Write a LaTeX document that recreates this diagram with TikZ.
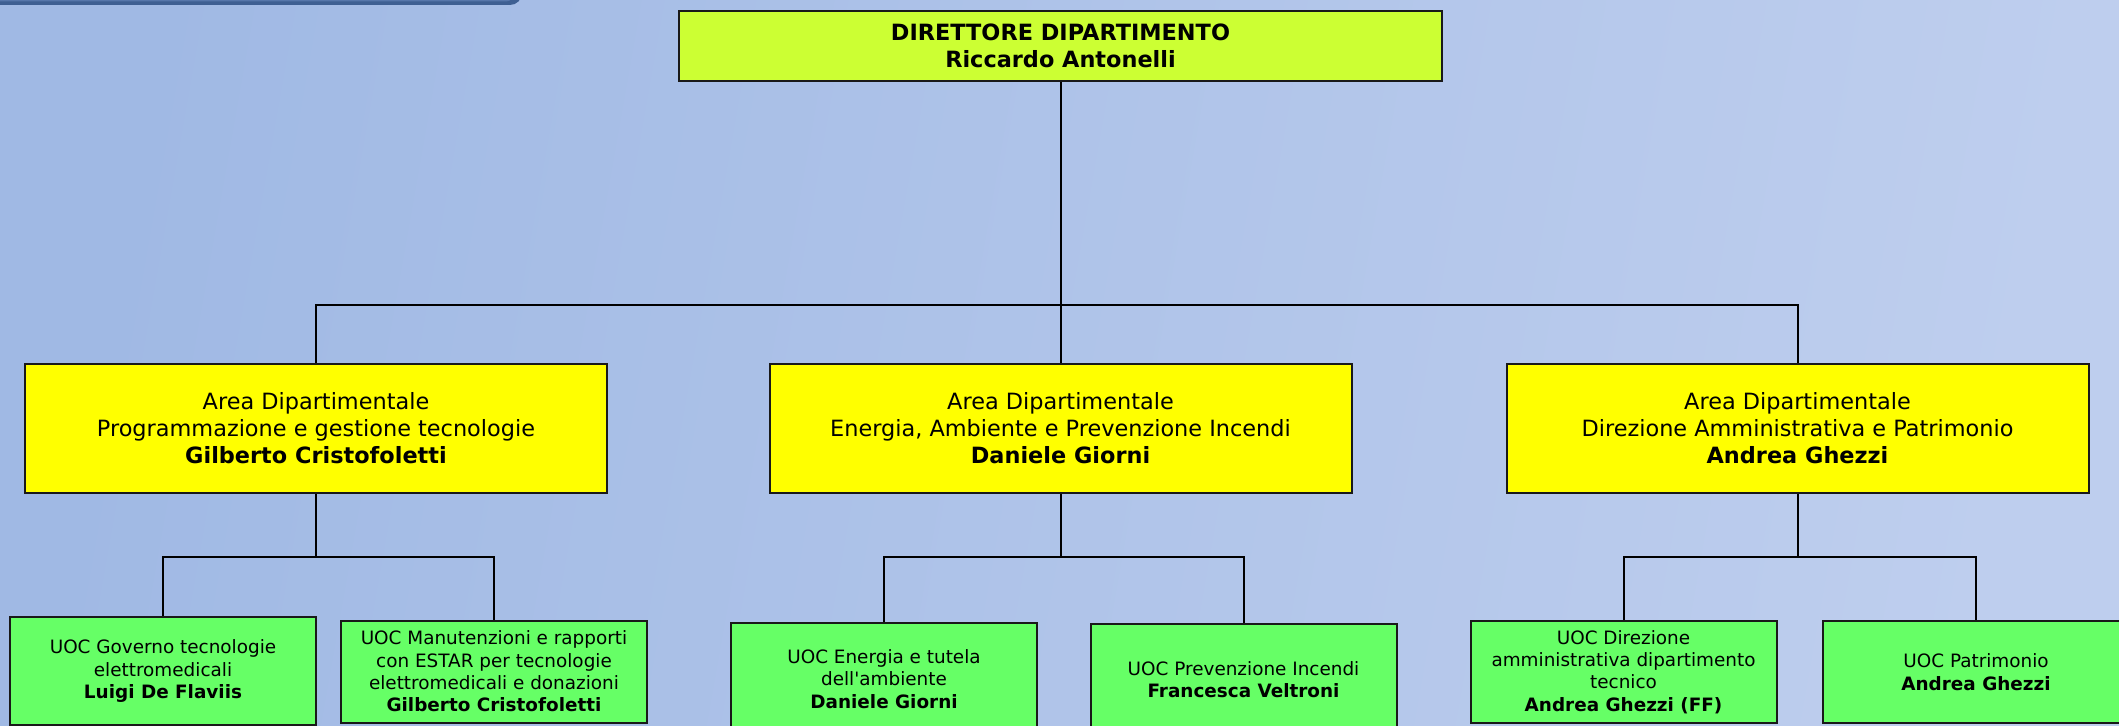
\documentclass[tikz,border=0pt]{standalone}
\usepackage{fontspec}
\setmainfont{DejaVu Sans}[Ligatures=TeXOff]
\definecolor{bgleft}{RGB}{160,185,228}
\definecolor{bgright}{RGB}{190,206,238}
\definecolor{bardark}{RGB}{62,95,146}
\definecolor{barlight}{RGB}{86,118,170}
\definecolor{topfill}{RGB}{204,255,51}
\definecolor{areafill}{RGB}{255,255,0}
\definecolor{uocfill}{RGB}{102,255,102}
\begin{document}
\begin{tikzpicture}[x=0.5pt,y=-0.5pt,
  conn/.style={draw=black,line width=1pt},
  boxbase/.style={draw=black!90,line width=1pt,rectangle,align=center,inner sep=0pt},
  topbox/.style={boxbase,fill=topfill,minimum width=381.5pt,minimum height=35pt,font=\fontsize{11.2}{13.5}\selectfont\bfseries},
  areabox/.style={boxbase,fill=areafill,minimum width=291pt,minimum height=64.5pt,font=\fontsize{11.2}{13.5}\selectfont},
  uocbox/.style={boxbase,fill=uocfill,minimum width=153pt,font=\fontsize{9.2}{11.2}\selectfont}
]
\useasboundingbox (0,0) rectangle (2119,726);
\clip (0,0) rectangle (2119,726);
\shade[left color=bgleft,right color=bgright,shading angle=80] (0,0) rectangle (2119,726);
% top-left bar
\fill[bardark,rounded corners=6pt] (-20,-20) rectangle (522,5);
\fill[barlight,rounded corners=4pt] (-20,-20) rectangle (514,1.5);

% nodes
\node[topbox] (dir) at (1060.5,46) {DIRETTORE DIPARTIMENTO\\Riccardo Antonelli};

\node[areabox] (a1) at (316,428.5) {Area Dipartimentale\\Programmazione e gestione tecnologie\\\textbf{Gilberto Cristofoletti}};
\node[areabox] (a2) at (1060.5,428.5) {Area Dipartimentale\\Energia, Ambiente e Prevenzione Incendi\\\textbf{Daniele Giorni}};
\node[areabox] (a3) at (1797.5,428.5) {Area Dipartimentale\\Direzione Amministrativa e Patrimonio\\\textbf{Andrea Ghezzi}};

\node[uocbox,minimum height=54pt] (b1) at (163,671) {UOC Governo tecnologie\\elettromedicali\\\textbf{Luigi De Flaviis}};
\node[uocbox,minimum height=51pt] (b2) at (494,671.5) {UOC Manutenzioni e rapporti\\con ESTAR per tecnologie\\elettromedicali e donazioni\\\textbf{Gilberto Cristofoletti}};
\node[uocbox,minimum height=56pt] (b3) at (884,679) {UOC Energia e tutela\\dell'ambiente\\\textbf{Daniele Giorni}};
\node[uocbox,minimum height=56pt] (b4) at (1243.5,679.5) {UOC Prevenzione Incendi\\\textbf{Francesca Veltroni}};
\node[uocbox,minimum height=51pt] (b5) at (1623.5,672) {UOC Direzione\\amministrativa dipartimento\\tecnico\\\textbf{Andrea Ghezzi (FF)}};
\node[uocbox,minimum height=51pt] (b6) at (1976,672) {UOC Patrimonio\\\textbf{Andrea Ghezzi}};

% connector levels
\coordinate (hmain) at (0,305);
\coordinate (hsub) at (0,557);

\draw[conn] (dir.south) -- (dir.south |- hmain);
\draw[conn] (a1.north) |- (a3.north |- hmain) -- (a3.north);
\draw[conn] (dir.south |- hmain) -- (a2.north);

\draw[conn] (a1.south) -- (a1.south |- hsub);
\draw[conn] (b1.north) |- (b2.north |- hsub) -- (b2.north);
\draw[conn] (a2.south) -- (a2.south |- hsub);
\draw[conn] (b3.north) |- (b4.north |- hsub) -- (b4.north);
\draw[conn] (a3.south) -- (a3.south |- hsub);
\draw[conn] (b5.north) |- (b6.north |- hsub) -- (b6.north);
\end{tikzpicture}
\end{document}
